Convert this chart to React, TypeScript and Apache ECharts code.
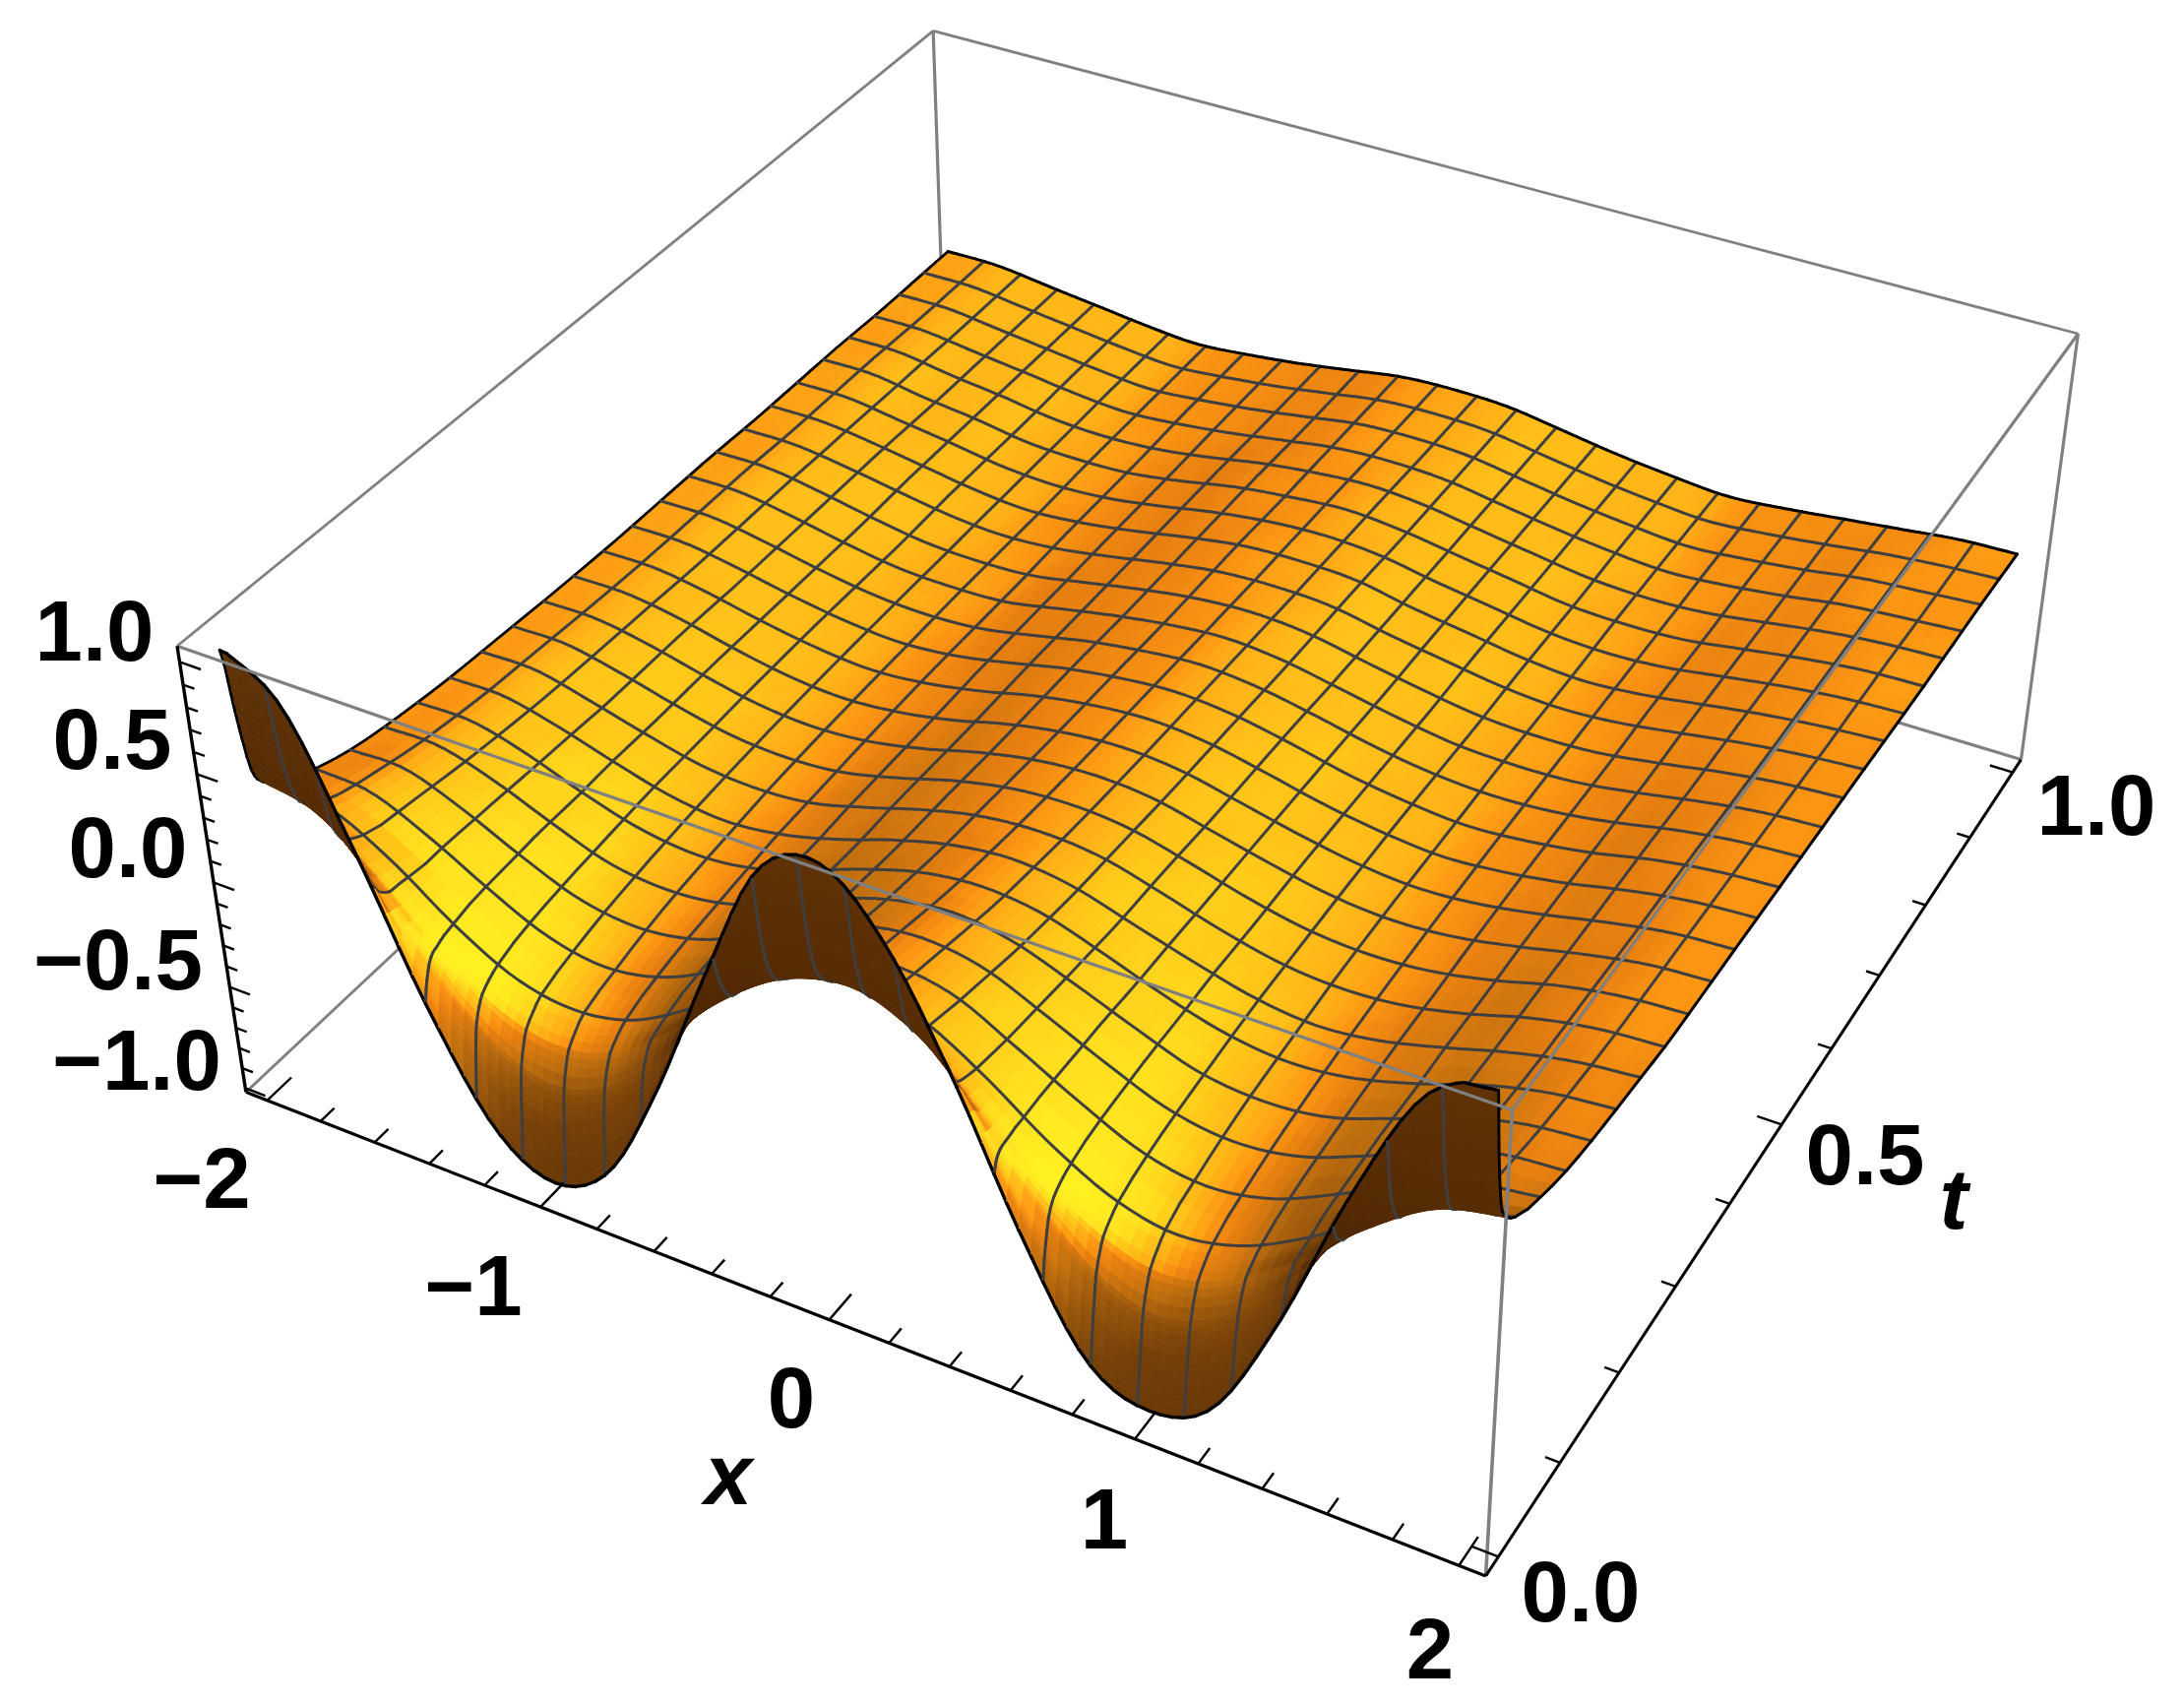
import React, { useEffect, useRef } from "react";
import * as echarts from "echarts";

const W = 2219;
const H = 1732;

// Value grid of the surface
const xKnots = [-2, -1.8, -1.6, -1.4, -1.2, -1, -0.8, -0.6, -0.4, -0.2, 0, 0.2, 0.4, 0.6, 0.8, 1, 1.2, 1.4, 1.6, 1.8, 2];
const tKnots = [0, 0.003, 0.006, 0.01, 0.015, 0.02, 0.03, 0.04, 0.06, 0.08, 0.12, 0.16, 0.2, 0.25, 0.3, 0.4, 0.5, 0.6, 0.7, 0.8, 0.9, 1];
const zRows = [
  [1.04, 0.86, 0.30, -0.34, -0.82, -0.98, -0.82, -0.32, 0.32, 0.88, 1.0, 0.74, 0.24, -0.36, -0.84, -0.97, -0.84, -0.32, 0.36, 0.90, 1.08],
  [0.95, 0.72, 0.26, -0.27, -0.69, -0.84, -0.69, -0.27, 0.26, 0.72, 0.90, 0.66, 0.22, -0.27, -0.70, -0.85, -0.70, -0.27, 0.29, 0.78, 1.03],
  [0.78, 0.58, 0.21, -0.22, -0.56, -0.69, -0.56, -0.21, 0.22, 0.58, 0.74, 0.55, 0.20, -0.22, -0.57, -0.70, -0.57, -0.22, 0.23, 0.63, 0.90],
  [0.60, 0.45, 0.17, -0.17, -0.44, -0.54, -0.44, -0.17, 0.18, 0.46, 0.58, 0.44, 0.16, -0.17, -0.44, -0.55, -0.45, -0.17, 0.19, 0.50, 0.72],
  [0.44, 0.37, 0.14, -0.14, -0.37, -0.45, -0.37, -0.14, 0.15, 0.38, 0.47, 0.37, 0.13, -0.14, -0.37, -0.46, -0.37, -0.14, 0.15, 0.41, 0.55],
  [0.38, 0.32, 0.12, -0.13, -0.32, -0.39, -0.32, -0.12, 0.13, 0.33, 0.41, 0.32, 0.12, -0.13, -0.32, -0.40, -0.32, -0.12, 0.13, 0.34, 0.44],
  [0.33, 0.28, 0.11, -0.11, -0.28, -0.34, -0.28, -0.11, 0.12, 0.29, 0.35, 0.28, 0.11, -0.11, -0.28, -0.35, -0.28, -0.11, 0.11, 0.30, 0.37],
  [0.30, 0.25, 0.10, -0.10, -0.25, -0.30, -0.25, -0.10, 0.11, 0.26, 0.31, 0.26, 0.10, -0.10, -0.25, -0.31, -0.25, -0.10, 0.10, 0.27, 0.33],
  [0.25, 0.22, 0.08, -0.08, -0.22, -0.27, -0.22, -0.08, 0.10, 0.24, 0.28, 0.24, 0.09, -0.08, -0.22, -0.27, -0.22, -0.08, 0.09, 0.23, 0.28],
  [0.22, 0.20, 0.08, -0.07, -0.20, -0.25, -0.20, -0.07, 0.09, 0.22, 0.26, 0.22, 0.08, -0.07, -0.20, -0.25, -0.20, -0.07, 0.08, 0.20, 0.25],
  [0.17, 0.17, 0.07, -0.06, -0.17, -0.21, -0.17, -0.06, 0.08, 0.19, 0.23, 0.19, 0.07, -0.06, -0.17, -0.21, -0.17, -0.06, 0.07, 0.17, 0.20],
  [0.14, 0.14, 0.06, -0.05, -0.15, -0.18, -0.15, -0.05, 0.07, 0.16, 0.20, 0.16, 0.06, -0.05, -0.15, -0.18, -0.15, -0.05, 0.06, 0.14, 0.17],
  [0.12, 0.12, 0.05, -0.05, -0.13, -0.16, -0.13, -0.04, 0.06, 0.14, 0.17, 0.14, 0.05, -0.05, -0.13, -0.16, -0.13, -0.05, 0.05, 0.12, 0.15],
  [0.10, 0.10, 0.04, -0.04, -0.11, -0.14, -0.11, -0.04, 0.05, 0.12, 0.15, 0.12, 0.04, -0.04, -0.11, -0.14, -0.11, -0.04, 0.04, 0.10, 0.13],
  [0.09, 0.09, 0.03, -0.04, -0.10, -0.12, -0.10, -0.03, 0.05, 0.11, 0.13, 0.11, 0.04, -0.04, -0.10, -0.12, -0.10, -0.04, 0.04, 0.09, 0.11],
  [0.07, 0.07, 0.03, -0.03, -0.08, -0.10, -0.08, -0.03, 0.04, 0.09, 0.11, 0.09, 0.03, -0.03, -0.08, -0.10, -0.08, -0.03, 0.03, 0.08, 0.10],
  [0.06, 0.06, 0.02, -0.03, -0.07, -0.09, -0.07, -0.02, 0.04, 0.08, 0.10, 0.08, 0.03, -0.03, -0.07, -0.09, -0.07, -0.03, 0.03, 0.07, 0.09],
  [0.06, 0.06, 0.02, -0.03, -0.07, -0.08, -0.07, -0.02, 0.03, 0.07, 0.09, 0.07, 0.02, -0.03, -0.07, -0.08, -0.07, -0.03, 0.02, 0.06, 0.08],
  [0.05, 0.05, 0.02, -0.02, -0.06, -0.08, -0.06, -0.02, 0.03, 0.07, 0.08, 0.07, 0.02, -0.02, -0.06, -0.08, -0.06, -0.02, 0.02, 0.05, 0.07],
  [0.05, 0.05, 0.01, -0.02, -0.06, -0.07, -0.06, -0.02, 0.03, 0.06, 0.08, 0.06, 0.02, -0.02, -0.06, -0.07, -0.06, -0.02, 0.02, 0.05, 0.06],
  [0.04, 0.04, 0.01, -0.02, -0.05, -0.07, -0.05, -0.02, 0.02, 0.06, 0.07, 0.06, 0.02, -0.02, -0.05, -0.07, -0.05, -0.02, 0.02, 0.04, 0.06],
  [0.04, 0.04, 0.01, -0.02, -0.05, -0.07, -0.05, -0.02, 0.02, 0.06, 0.07, 0.06, 0.02, -0.02, -0.05, -0.07, -0.05, -0.02, 0.01, 0.04, 0.05],
];

// Axis ranges and ticks
const xRange = [-2.08, 2.08];
const tRange = [-0.02, 1.02];
const zRange = [-1.02, 1.07];
const zClip = 1.02;
const xMajor = [-2, -1, 0, 1, 2];
const xMinor = [-1.8, -1.6, -1.4, -1.2, -0.8, -0.6, -0.4, -0.2, 0.2, 0.4, 0.6, 0.8, 1.2, 1.4, 1.6, 1.8];
const tMajor = [0, 0.5, 1];
const tMinor = [0.1, 0.2, 0.3, 0.4, 0.6, 0.7, 0.8, 0.9];
const zMajor = [-1, -0.5, 0, 0.5, 1];
const zMinor = [-0.9, -0.8, -0.7, -0.6, -0.4, -0.3, -0.2, -0.1, 0.1, 0.2, 0.3, 0.4, 0.6, 0.7, 0.8, 0.9];

// Text labels: [text, centre x, centre y] in page pixels
const labels: [string, number, number][] = [
  ["1.0", 96, 640], ["0.5", 114, 750], ["0.0", 130, 860], ["\u22120.5", 120, 974], ["\u22121.0", 139, 1076],
  ["\u22122", 205, 1196], ["\u22121", 481, 1305], ["0", 804, 1419], ["1", 1122, 1542], ["2", 1453, 1674],
  ["0.0", 1606, 1616], ["0.5", 1895, 1172], ["1.0", 2130, 817],
];
const axisNames: [string, number, number][] = [["x", 740, 1497], ["t", 1985, 1217]];

// Where the box's corners fall on the page (camera calibration)
const calib: [number, number, number, number, number][] = [
  [0, 0, 0, 250.7, 1109],
  [0, 0, 1, 179.3, 657],
  [1, 0, 0, 1508, 1602],
  [1, 0, 1, 1538, 1126],
  [1, 1, 0, 2054, 771],
  [1, 1, 1, 2111, 340],
  [0, 1, 1, 948, 31],
];

function solveCamera() {
  const n = 11;
  const A: number[][] = Array.from({ length: n }, () => new Array(n + 1).fill(0));
  const add = (r: number[], b: number) => {
    for (let i = 0; i < n; i++) {
      for (let j = 0; j < n; j++) A[i][j] += r[i] * r[j];
      A[i][n] += r[i] * b;
    }
  };
  for (const [a, b, c, u0, v0] of calib) {
    const u = u0 / 1000, v = v0 / 1000;
    add([a, b, c, 1, 0, 0, 0, 0, -u * a, -u * b, -u * c], u);
    add([0, 0, 0, 0, a, b, c, 1, -v * a, -v * b, -v * c], v);
  }
  for (let i = 0; i < n; i++) {
    let p = i;
    for (let r = i + 1; r < n; r++) if (Math.abs(A[r][i]) > Math.abs(A[p][i])) p = r;
    [A[i], A[p]] = [A[p], A[i]];
    for (let r = 0; r < n; r++) {
      if (r === i) continue;
      const f = A[r][i] / A[i][i];
      for (let c = i; c <= n; c++) A[r][c] -= f * A[i][c];
    }
  }
  return A.map((row, i) => row[n] / row[i]);
}
const cam = solveCamera();

type V = [number, number, number];
function project(p: V): [number, number] {
  const a = (p[0] - xRange[0]) / (xRange[1] - xRange[0]);
  const b = (p[1] - tRange[0]) / (tRange[1] - tRange[0]);
  const c = (p[2] - zRange[0]) / (zRange[1] - zRange[0]);
  const w = cam[8] * a + cam[9] * b + cam[10] * c + 1;
  return [
    (1000 * (cam[0] * a + cam[1] * b + cam[2] * c + cam[3])) / w,
    (1000 * (cam[4] * a + cam[5] * b + cam[6] * c + cam[7])) / w,
  ];
}

// Smooth sampling of the value grid for drawing
function pchip(xs: number[], ys: number[], x: number) {
  let k = 0;
  while (k < xs.length - 2 && x > xs[k + 1]) k++;
  const h = xs[k + 1] - xs[k];
  const sl = (i: number) => (ys[i + 1] - ys[i]) / (xs[i + 1] - xs[i]);
  const d = (i: number) => {
    if (i === 0) return sl(0);
    if (i === xs.length - 1) return sl(xs.length - 2);
    const a = sl(i - 1), b = sl(i);
    if (a * b <= 0) return 0;
    return (2 * a * b) / (a + b);
  };
  const s = (x - xs[k]) / h;
  const h00 = (1 + 2 * s) * (1 - s) * (1 - s), h10 = s * (1 - s) * (1 - s);
  const h01 = s * s * (3 - 2 * s), h11 = s * s * (s - 1);
  return h00 * ys[k] + h10 * h * d(k) + h01 * ys[k + 1] + h11 * h * d(k + 1);
}
function catmull(ys: number[], step: number, x0: number, x: number) {
  const f = (x - x0) / step;
  const k = Math.min(ys.length - 2, Math.max(0, Math.floor(f)));
  const s = f - k;
  const p0 = k > 0 ? ys[k - 1] : 2 * ys[0] - ys[1];
  const p1 = ys[k], p2 = ys[k + 1];
  const p3 = k + 2 < ys.length ? ys[k + 2] : 2 * ys[k + 1] - ys[k];
  return 0.5 * (2 * p1 + (p2 - p0) * s + (2 * p0 - 5 * p1 + 4 * p2 - p3) * s * s + (3 * p1 - p0 - 3 * p2 + p3) * s * s * s);
}

const X_MESH = 27, X_SUB = 4, T_MESH = 24, T_SUB = 2;
const firstCell = [0, 0.0005, 0.001, 0.0015, 0.002, 0.0025, 0.003, 0.0037, 0.0045, 0.005, 0.006, 0.007, 0.008, 0.009, 0.01, 0.0125, 0.015, 0.0175, 0.02, 0.025, 0.03, 0.035];
const fineT: number[] = [...firstCell];
const tMeshRow = new Set<number>([0]);
for (let m = 1; m < T_MESH; m++) {
  tMeshRow.add(fineT.length);
  for (let s = 0; s < T_SUB; s++) fineT.push((m + s / T_SUB) / T_MESH);
}
fineT.push(1);
tMeshRow.add(fineT.length - 1);
const fineX: number[] = [];
for (let i = 0; i <= X_MESH * X_SUB; i++) fineX.push(-2 + (4 * i) / (X_MESH * X_SUB));

const columns = xKnots.map((_, c) => zRows.map((r) => r[c]));
const fineZ: number[][] = fineT.map((t) => {
  const row = columns.map((col) => pchip(tKnots, col, t));
  return fineX.map((x) => catmull(row, 0.2, -2, x));
});

const ramp: [number, number[]][] = [
  [0.0, [70, 34, 4]],
  [0.3, [118, 64, 8]],
  [0.5, [190, 110, 14]],
  [0.64, [232, 128, 15]],
  [0.72, [252, 150, 18]],
  [0.78, [255, 172, 22]],
  [0.86, [255, 195, 24]],
  [0.93, [255, 222, 30]],
  [1.0, [255, 240, 32]],
];
function rampColor(s: number) {
  const v = Math.max(0, Math.min(1, s));
  let k = 0;
  while (k < ramp.length - 2 && v > ramp[k + 1][0]) k++;
  const f = (v - ramp[k][0]) / (ramp[k + 1][0] - ramp[k][0]);
  const c = ramp[k][1].map((a, i) => Math.round(a + (ramp[k + 1][1][i] - a) * f));
  return `rgb(${c[0]},${c[1]},${c[2]})`;
}
const LIGHT = [0.55, -0.35, 0.76];
const Z_SCALE = 0.19;

function area(pts: number[][]) {
  let s = 0;
  for (let i = 0; i < pts.length; i++) {
    const a = pts[i], b = pts[(i + 1) % pts.length];
    s += a[0] * b[1] - b[0] * a[1];
  }
  return s;
}
const upSign = Math.sign(area([project([0, 0.5, 0]), project([0.2, 0.5, 0]), project([0.2, 0.7, 0]), project([0, 0.7, 0])]));

function clipPoly(poly: V[]) {
  const out: V[] = [];
  const cut: V[] = [];
  for (let i = 0; i < poly.length; i++) {
    const a = poly[i], b = poly[(i + 1) % poly.length];
    const ai = a[2] <= zClip, bi = b[2] <= zClip;
    if (ai) out.push(a);
    if (ai !== bi) {
      const f = (zClip - a[2]) / (b[2] - a[2]);
      const p: V = [a[0] + (b[0] - a[0]) * f, a[1] + (b[1] - a[1]) * f, zClip];
      out.push(p);
      cut.push(p);
    }
  }
  return { out, cut };
}
function clipSeg(a: V, b: V): [V, V] | null {
  const ai = a[2] <= zClip, bi = b[2] <= zClip;
  if (!ai && !bi) return null;
  if (ai && bi) return [a, b];
  const f = (zClip - a[2]) / (b[2] - a[2]);
  const p: V = [a[0] + (b[0] - a[0]) * f, a[1] + (b[1] - a[1]) * f, zClip];
  return ai ? [a, p] : [p, b];
}

// Painter's order: the camera stands beyond x = 2 and in front of t = 0
const cells: [number, number][] = [];
for (let i = 0; i < fineX.length - 1; i++) {
  for (let j = fineT.length - 2; j >= 0; j--) cells.push([i, j]);
}
const xMeshCol = (i: number) => i % X_SUB === 0;

function renderCell(params: any, api: any) {
  const [i, j] = cells[params.dataIndex];
  const vv = (a: number, b: number): V => [fineX[a], fineT[b], fineZ[b][a]];
  const q: V[] = [vv(i, j), vv(i + 1, j), vv(i + 1, j + 1), vv(i, j + 1)];
  const toPx = (p: V) => api.coord(project(p));
  const children: any[] = [];
  const { out, cut } = clipPoly(q);
  if (out.length < 3) return { type: "group", children };
  const pts = out.map(toPx);
  const up = Math.sign(area(out.map(project))) === upSign;
  const ux = (q[1][0] - q[0][0] + q[2][0] - q[3][0]) / 2 / 4;
  const uz = ((q[1][2] - q[0][2] + q[2][2] - q[3][2]) / 2) * Z_SCALE;
  const vy = (q[3][1] - q[0][1] + q[2][1] - q[1][1]) / 2;
  const vz = ((q[3][2] - q[0][2] + q[2][2] - q[1][2]) / 2) * Z_SCALE;
  let nx = -uz * vy, ny = -ux * vz, nz = ux * vy;
  const nl = Math.hypot(nx, ny, nz) || 1;
  nx /= nl; ny /= nl; nz /= nl;
  let s = nx * LIGHT[0] + ny * LIGHT[1] + nz * LIGHT[2];
  const zc = (q[0][2] + q[1][2] + q[2][2] + q[3][2]) / 4;
  if (zc < -0.3) s *= 0.5 + 0.5 * ((zc + 1) / 0.7);
  const fill = up ? rampColor(s) : rampColor(0.06 + 0.1 * Math.max(0, Math.min(1, zc)));
  children.push({
    type: "polygon",
    shape: { points: pts },
    style: { fill, stroke: fill, lineWidth: 0.8 },
    silent: true,
  });
  const seg = (a: V, b: V, stroke: string, lineWidth: number) => {
    const c = clipSeg(a, b);
    if (c) children.push({
      type: "polyline",
      shape: { points: [toPx(c[0]), toPx(c[1])] },
      style: { stroke, lineWidth, fill: "none", lineCap: "round" },
      silent: true,
    });
  };
  const meshColor = "#3f3f3f";
  const edgeColor = "#000000";
  if (i === 0) seg(q[0], q[3], edgeColor, 2.8);
  else if (xMeshCol(i)) seg(q[0], q[3], meshColor, 3);
  if (j + 1 === fineT.length - 1) seg(q[3], q[2], edgeColor, 3);
  else if (tMeshRow.has(j + 1)) seg(q[3], q[2], meshColor, 3);
  if (j === 0) seg(q[0], q[1], edgeColor, 3.4);
  if (i === fineX.length - 2) seg(q[1], q[2], edgeColor, 3);
  if (cut.length === 2) seg(cut[0], cut[1], edgeColor, 3.4);
  return { type: "group", children };
}

const [x0, x1] = xRange, [t0, t1] = tRange, [z0, z1] = zRange;
type Seg = { a: V; b: V; color: string; width: number };
const GRAY = "#808080";
const backEdges: Seg[] = [
  { a: [x0, t0, z1], b: [x0, t1, z1], color: GRAY, width: 2.8 },
  { a: [x0, t1, z1], b: [x1, t1, z1], color: GRAY, width: 2.8 },
  { a: [x1, t1, z1], b: [x1, t1, z0], color: GRAY, width: 3.2 },
  { a: [x1, t1, z0], b: [x0, t1, z0], color: GRAY, width: 3.2 },
  { a: [x0, t1, z0], b: [x0, t0, z0], color: GRAY, width: 2.8 },
  { a: [x0, t1, z0], b: [x0, t1, z1], color: GRAY, width: 3.2 },
];
const frontEdges: Seg[] = [
  { a: [x0, t0, z1], b: [x1, t0, z1], color: GRAY, width: 3.2 },
  { a: [x1, t0, z1], b: [x1, t1, z1], color: GRAY, width: 3.2 },
  { a: [x1, t0, z1], b: [x1, t0, z0], color: GRAY, width: 3.6 },
  { a: [x0, t0, z0], b: [x1, t0, z0], color: "#000", width: 3.2 },
  { a: [x1, t0, z0], b: [x1, t1, z0], color: "#000", width: 3 },
  { a: [x0, t0, z0], b: [x0, t0, z1], color: "#000", width: 3.4 },
];
const BLACK = "#000";
for (const [list, len] of [[xMajor, 0.03], [xMinor, 0.017]] as [number[], number][]) {
  for (const v of list) frontEdges.push({ a: [v, t0, z0], b: [v, t0 + len, z0], color: BLACK, width: 2.4 });
}
for (const [list, len] of [[tMajor, 0.08], [tMinor, 0.045]] as [number[], number][]) {
  for (const v of list) frontEdges.push({ a: [x1, v, z0], b: [x1 - len, v, z0], color: BLACK, width: 2.4 });
}
for (const [list, len] of [[zMajor, 0.075], [zMinor, 0.04]] as [number[], number][]) {
  for (const v of list) frontEdges.push({ a: [x0, t0, v], b: [x0 + len, t0, v], color: BLACK, width: 2.4 });
}
const segRenderer = (list: Seg[]) => (params: any, api: any) => {
  const s = list[params.dataIndex];
  return {
    type: "polyline",
    shape: { points: [api.coord(project(s.a)), api.coord(project(s.b))] },
    style: { stroke: s.color, lineWidth: s.width, fill: "none" },
    silent: true,
  };
};

const textStyle = (text: string, italic: boolean) => ({
  text,
  fill: "#000",
  align: "center",
  verticalAlign: "middle",
  font: `${italic ? "italic " : ""}bold 87px "Liberation Sans", Arial, sans-serif`,
});

export default function App() {
  const ref = useRef<HTMLDivElement>(null);
  useEffect(() => {
    const chart = echarts.init(ref.current!, undefined, { renderer: "svg" });
    chart.setOption({
      animation: false,
      backgroundColor: "#fff",
      grid: { left: 0, right: 0, top: 0, bottom: 0 },
      xAxis: { type: "value", min: 0, max: W, show: false },
      yAxis: { type: "value", min: 0, max: H, inverse: true, show: false },
      series: [
        { type: "custom", clip: false, silent: true, progressive: 0, data: backEdges.map((_, k) => [k, 0]), renderItem: segRenderer(backEdges) },
        { type: "custom", clip: false, silent: true, progressive: 0, data: cells.map((c) => c), renderItem: renderCell },
        { type: "custom", clip: false, silent: true, progressive: 0, data: frontEdges.map((_, k) => [k, 0]), renderItem: segRenderer(frontEdges) },
      ],
      graphic: [
        ...labels.map(([text, x, y]) => ({ type: "text", z: 100, x, y, silent: true, style: textStyle(text, false) })),
        ...axisNames.map(([text, x, y]) => ({ type: "text", z: 100, x, y, silent: true, style: textStyle(text, true) })),
      ],
    });
    return () => chart.dispose();
  }, []);
  return <div ref={ref} style={{ position: "absolute", left: 0, top: 0, width: W, height: H }} />;
}
